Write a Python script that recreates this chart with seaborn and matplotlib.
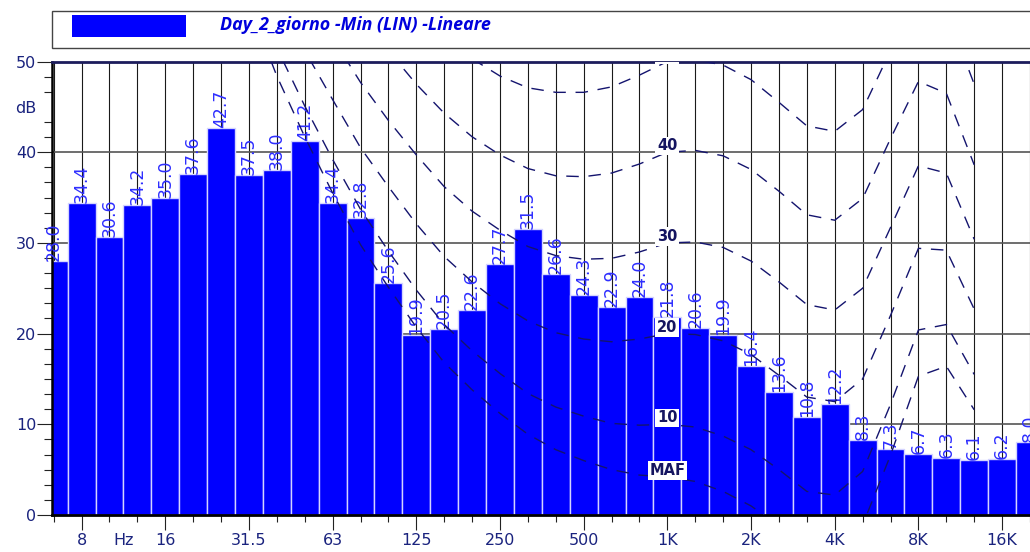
import numpy as np
import pandas as pd
import matplotlib
matplotlib.use("Agg")
import matplotlib.pyplot as plt
import seaborn as sns
from matplotlib.patches import Rectangle

# Third-octave band centres and measured levels (dB, linear weighting)
bands = ["6.3", "8", "10", "12.5", "16", "20", "25", "31.5", "40", "50", "63", "80",
         "100", "125", "160", "200", "250", "315", "400", "500", "630", "800",
         "1K", "1.25K", "1.6K", "2K", "2.5K", "3.15K", "4K", "5K", "6.3K", "8K",
         "10K", "12.5K", "16K", "20K"]
levels_db = [28.0, 34.4, 30.6, 34.2, 35.0, 37.6, 42.7, 37.5, 38.0, 41.2, 34.4, 32.8,
             25.6, 19.9, 20.5, 22.6, 27.7, 31.5, 26.6, 24.3, 22.9, 24.0,
             21.8, 20.6, 19.9, 16.4, 13.6, 10.8, 12.2, 8.3, 7.3, 6.7,
             6.3, 6.1, 6.2, 8.0]

# Equal-loudness contours (ISO 226:1987), 20 Hz .. 12.5 kHz
contour_bands = bands[bands.index("20"):bands.index("12.5K") + 1]
maf = [74.3, 65.0, 56.3, 48.4, 41.7, 35.5, 29.8, 25.1, 20.7, 16.8, 13.8, 11.2, 8.9, 7.2,
       6.0, 5.0, 4.4, 4.2, 3.7, 2.6, 1.0, -1.2, -3.6, -3.9, -1.1, 6.6, 15.3, 16.4, 11.6]
phon10 = [76.8, 67.7, 59.2, 51.5, 45.1, 39.2, 33.7, 29.1, 24.8, 21.0, 18.1, 15.6, 13.4, 11.9,
          10.9, 10.1, 9.9, 10.0, 9.7, 8.7, 7.2, 5.0, 2.6, 2.2, 4.8, 12.2, 20.4, 21.0, 15.5]
phon20 = [81.3, 72.5, 64.3, 57.1, 51.2, 45.8, 40.5, 36.2, 32.1, 28.5, 25.7, 23.3, 21.4, 20.1,
          19.4, 19.1, 19.4, 20.0, 19.9, 19.2, 17.7, 15.4, 13.0, 12.5, 15.0, 22.0, 29.4, 29.2, 22.7]
phon30 = [86.0, 77.6, 69.7, 62.9, 57.6, 52.6, 47.7, 43.5, 39.7, 36.2, 33.5, 31.4, 29.6, 28.6,
          28.2, 28.3, 29.0, 30.0, 30.1, 29.5, 28.0, 25.7, 23.2, 22.6, 25.0, 31.7, 38.5, 37.7, 30.4]
phon40 = [91.0, 82.9, 75.4, 69.0, 64.3, 59.7, 55.0, 51.2, 47.5, 44.3, 41.7, 39.7, 38.2, 37.4,
          37.3, 37.7, 38.7, 40.0, 40.2, 39.6, 38.1, 35.7, 33.1, 32.5, 34.9, 41.5, 47.8, 46.5, 38.6]
phon50 = [96.2, 88.5, 81.3, 75.4, 71.3, 67.1, 62.7, 59.1, 55.7, 52.7, 50.3, 48.4, 47.1, 46.6,
          46.6, 47.2, 48.5, 50.0, 50.2, 49.6, 48.0, 45.5, 42.9, 42.3, 44.7, 51.2, 57.2, 55.6, 47.5]
contour_names = ["MAF", "10", "20", "30", "40", "50"]

# Axis labelling
octave_labels = ["8", "16", "31.5", "63", "125", "250", "500", "1K", "2K", "4K", "8K", "16K"]
y_major = [0, 10, 20, 30, 40, 45, 50]
y_major_labels = ["0", "10", "20", "30", "40", "dB", "50"]
legend_text = "Day_2_giorno -Min (LIN) -Lineare"

NAVY = "#1a237e"
BAR_BLUE = "#0000ff"
LABEL_BLUE = "#2e2eff"
CURVE = "#14146e"

sns.set_style("white")
plt.rcParams["font.family"] = ["DejaVu Sans"]

W, H = 1030, 552
fig = plt.figure(figsize=(W / 100, H / 100), dpi=100)
ax = fig.add_axes([52 / W, 37 / H, 978 / W, 453.5 / H])

df = pd.DataFrame({"band": bands, "level": levels_db})
sns.barplot(data=df, x="band", y="level", order=bands, color=BAR_BLUE, saturation=1,
            width=1.0, edgecolor="#d4d4ff", linewidth=1.0, ax=ax, zorder=2)

ax.set_xlim(-0.06, 34.78)
ax.set_ylim(0, 50)
ax.set_xlabel("")
ax.set_ylabel("")

# x ticks: octave labels, plus a unit label between 10 and 12.5 Hz
pos = {b: i for i, b in enumerate(bands)}
hz_pos = (pos["10"] + pos["12.5"]) / 2
xt_pos = [pos["8"], hz_pos] + [pos[b] for b in octave_labels[1:]]
xt_lab = ["8", "Hz"] + octave_labels[1:]
ax.set_xticks(xt_pos, labels=xt_lab)
ax.set_xticks([i for i, b in enumerate(bands) if b not in octave_labels], minor=True)

ax.set_yticks(y_major, labels=y_major_labels)
y_minor = [v for k, v in enumerate(np.linspace(0, 50, 31)) if k % 6 != 0]
ax.set_yticks(y_minor, minor=True)

ax.tick_params(axis="both", which="both", direction="out", bottom=True, left=True,
               color="#222222", width=0.8)
ax.tick_params(axis="x", which="major", length=10.8, pad=2.5, labelsize=11.5, labelcolor=NAVY)
ax.tick_params(axis="x", which="minor", length=5)
ax.tick_params(axis="y", which="major", length=10.8, pad=0.5, labelsize=11.5, labelcolor=NAVY)
ax.tick_params(axis="y", which="minor", length=5.8)

ax.set_axisbelow(True)
ax.grid(axis="x", which="both", color="#1a1a1a", lw=0.8)
ax.grid(axis="y", which="major", color="#555555", lw=1.2)

for t, lab in zip(ax.xaxis.get_major_ticks(), xt_lab):
    if lab == "Hz":
        t.tick1line.set_visible(False)
        t.gridline.set_visible(False)
for t, lab in zip(ax.yaxis.get_major_ticks(), y_major_labels):
    if lab == "dB":
        t.tick1line.set_visible(False)
        t.gridline.set_visible(False)

ax.spines["right"].set_visible(False)
ax.spines["left"].set_color("black")
ax.spines["left"].set_linewidth(1.8)
ax.spines["bottom"].set_color("black")
ax.spines["bottom"].set_linewidth(2.0)
ax.spines["top"].set_color("#1c1c5c")
ax.spines["top"].set_linewidth(2.0)

# value labels above each bar
for i, v in enumerate(levels_db):
    ax.text(i, v, f"{v:.1f}", rotation=90, ha="center", va="bottom", fontsize=12.5,
            color=LABEL_BLUE, zorder=3, clip_on=False)

# equal-loudness contours
cx = [pos[b] for b in contour_bands]
curves = [maf, phon10, phon20, phon30, phon40, phon50]
for vals in curves:
    ax.plot(cx, vals, color=CURVE, lw=1.0, dashes=(9, 7), zorder=4)

k1 = contour_bands.index("1K")
for name, vals in zip(contour_names, curves):
    ax.text(pos["1K"], vals[k1] + 0.7, name, ha="center", va="center", fontsize=10.5,
            fontweight="bold", color="#151560", zorder=5, clip_on=True,
            bbox=dict(boxstyle="square,pad=0.12", fc="white", ec="none"))

# legend strip
fig.add_artist(Rectangle((52 / W, (H - 48.3) / H), 1.0, 37.3 / H, transform=fig.transFigure,
                         fc="white", ec="#444444", lw=1.0))
fig.add_artist(Rectangle((71.7 / W, (H - 36.7) / H), 114.3 / W, 21.7 / H,
                         transform=fig.transFigure, fc=BAR_BLUE, ec="none"))
fig.text(220 / W, (H - 24.5) / H, legend_text, ha="left", va="center", fontsize=12.9,
         fontweight="bold", fontstyle="italic", family=["Open Sans", "DejaVu Sans"],
         color="#0000dd")

fig.savefig("out.png", dpi=100)
